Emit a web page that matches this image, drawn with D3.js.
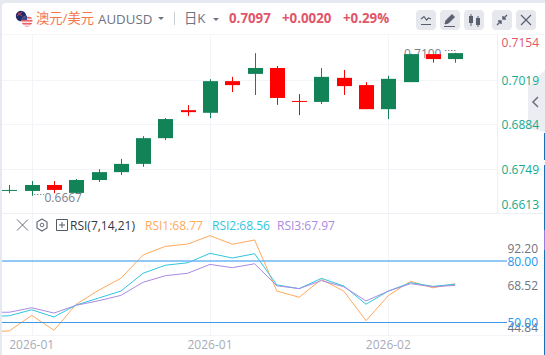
<!DOCTYPE html>
<html><head><meta charset="utf-8"><script src="https://cdn.jsdelivr.net/npm/d3@7"></script>
<style>html,body{margin:0;padding:0;background:#e6eaf0;overflow:hidden}svg{display:block}text{font-family:"Open Sans","Noto Sans CJK SC",sans-serif}</style></head>
<body><script>
const opens =[.6681,.6681,.6699,.6675,.6714,.6738,.6763,.6841,.6926,.6918,.7014,.7036,.7054,.6954,.6951,.7024,.7002,.6929,.7011,.7096,.7081];
const closes=[.6684,.6699,.6684,.6714,.6738,.6763,.6841,.6899,.6920,.7014,.7002,.7054,.6963,.6951,.7027,.6999,.6929,.7021,.7096,.7081,.7099];
const highs =[.6699,.6711,.6711,.6717,.6747,.6778,.6847,.6902,.6941,.7020,.7027,.7099,.7060,.6975,.7054,.7048,.7011,.7030,.7097,.7096,.7100];
const lows  =[.6674,.6666,.6674,.6675,.6708,.6729,.6754,.6835,.6908,.6902,.6981,.6972,.6942,.6911,.6945,.6972,.6929,.6899,.7011,.7070,.7070];
const rsi1=[45.4,45.8,53.4,46.1,58.8,65.6,71.4,82.8,87.0,88.1,92.2,88.0,90.1,65.2,62.2,70.9,65.2,50.8,63.0,70.0,66.8,68.77];
const rsi2=[52.8,53.2,56.1,52.6,58.4,61.8,65.2,73.9,77.8,79.0,83.6,81.3,83.4,68.2,66.4,71.4,67.7,58.8,65.2,69.3,67.5,68.56];
const rsi3=[54.9,54.9,57.1,54.5,58.3,60.5,63.1,69.5,72.7,73.9,78.2,76.6,78.5,67.8,66.4,70.3,67.3,60.4,65.2,68.8,67.3,67.97];
const priceTicks=[.7154,.7019,.6884,.6749,.6613];
const rsiRefs=[80,50];
const rsiTicks=[92.20,68.52,44.84];
const dateLabels=[{i:1,t:"2026-01"},{i:9,t:"2026-01"},{i:17,t:"2026-02"}];
const W=545,H=355;
const svg=d3.select("body").append("svg").attr("width",W).attr("height",H);
const x=d3.scaleLinear().domain([0,20]).range([9.4,455.2]);
const y=d3.scaleLinear().domain([.7019,.6884]).range([79.5,124]);
const r=d3.scaleLinear().domain([80,50]).range([260.7,322.3]);
const UP="#128257",DOWN="#ff0000",GRID="#f2f4f7";
svg.append("rect").attr("x",2).attr("y",3).attr("width",W).attr("height",H).attr("rx",4).attr("fill","#fff");
svg.append("clipPath").attr("id","plot").append("rect").attr("x",2).attr("y",35).attr("width",W).attr("height",178);
// grid
const g=svg.append("g");
g.selectAll(".h").data(priceTicks.slice(1,4)).join("line").attr("x1",2).attr("x2",497).attr("y1",d=>Math.round(y(d))+.5).attr("y2",d=>Math.round(y(d))+.5).attr("stroke",GRID);
g.selectAll(".v").data(dateLabels).join("line").attr("x1",d=>Math.round(x(d.i))+.5).attr("x2",d=>Math.round(x(d.i))+.5).attr("y1",35).attr("y2",335).attr("stroke",GRID);
g.append("line").attr("x1",2).attr("x2",W).attr("y1",34.5).attr("y2",34.5).attr("stroke","#f5f6f8");
g.append("line").attr("x1",2).attr("x2",W).attr("y1",213.5).attr("y2",213.5).attr("stroke","#eef0f3");
g.append("line").attr("x1",2).attr("x2",W).attr("y1",335.5).attr("y2",335.5).attr("stroke","#f2f4f7");
g.append("line").attr("x1",497.5).attr("x2",497.5).attr("y1",35).attr("y2",213).attr("stroke","#eef0f3");
// side tab
svg.append("path").attr("d","M545 70L528 86V128L545 132Z").attr("fill","#ecedf2");
svg.append("path").attr("d","M538 97L533 102L538 107").attr("fill","none").attr("stroke","#6f7480").attr("stroke-width",1.6);
svg.append("path").attr("d","M544.5 133V160M544.5 165V230M544.5 250V355").attr("stroke","#1a6fb8").attr("fill","none");
svg.append("path").attr("d","M544.5 230V250").attr("stroke","#9a7fd6").attr("fill","none");
// extrema labels (beneath the candles)
svg.append("text").attr("x",404).attr("y",58).attr("font-size",12).attr("fill","#7a7f8c").text("0.7100");
svg.append("line").attr("x1",445).attr("x2",456).attr("y1",50.5).attr("y2",50.5).attr("stroke","#8a8f9a").attr("stroke-dasharray","1.5 1.5");
svg.append("text").attr("x",44.5).attr("y",201.5).attr("font-size",12).attr("fill","#7a7f8c").text("0.6667");
svg.append("line").attr("x1",34).attr("x2",44).attr("y1",194.5).attr("y2",194.5).attr("stroke","#8a8f9a").attr("stroke-dasharray","1.5 1.5");
// candles
const idx=d3.range(opens.length);
const c=svg.append("g").attr("clip-path","url(#plot)");
const col=i=>closes[i]>=opens[i]?UP:DOWN;
c.selectAll(".w").data(idx).join("line").attr("x1",i=>Math.round(x(i))+.5).attr("x2",i=>Math.round(x(i))+.5).attr("y1",i=>y(highs[i])).attr("y2",i=>y(lows[i])).attr("stroke",col);
c.selectAll(".b").data(idx).join("rect").attr("x",i=>Math.round(x(i))-7).attr("width",15)
 .attr("y",i=>y(Math.max(opens[i],closes[i]))).attr("height",i=>Math.max(1,Math.abs(y(opens[i])-y(closes[i])))).attr("fill",col);
// price axis labels
svg.selectAll(".pl").data(priceTicks).join("text").attr("x",539).attr("text-anchor","end").attr("font-size",12)
 .attr("y",d=>Math.min(Math.max(y(d),42),203.5)+5).attr("fill",(d,i)=>i==0?"#e0566a":"#13ab8d").text(d=>d.toFixed(4));
// RSI lines
svg.append("clipPath").attr("id","rp").append("rect").attr("x",2).attr("y",214).attr("width",500).attr("height",121);
const rx=d3.scaleLinear().domain([1,21]).range([9.4,455.2]);
const line=d3.line().x((d,i)=>rx(i)).y(d=>r(d));
const rg=svg.append("g").attr("clip-path","url(#rp)");
[[rsi1,"#ffa95c"],[rsi2,"#2fc6df"],[rsi3,"#a98be2"]].forEach(([a,cl])=>rg.append("path").attr("d",line(a)).attr("fill","none").attr("stroke",cl).attr("stroke-width",1));
svg.selectAll(".ref").data(rsiRefs).join("line").attr("x1",2).attr("x2",507).attr("y1",d=>d==80?261:322.5).attr("y2",d=>d==80?261:322.5).attr("stroke",d=>d==80?"#6db6f2":"#3f9be8").attr("stroke-width",d=>d==80?1.6:1);
svg.selectAll(".rt").data(rsiTicks).join("text").attr("x",538).attr("text-anchor","end").attr("font-size",12).attr("fill","#6f7480")
 .attr("y",d=>Math.min(Math.max(r(d),248),327)+(d==68.52?6:5)).text(d=>d.toFixed(2));
svg.selectAll(".rr").data(rsiRefs).join("text").attr("x",538).attr("text-anchor","end").attr("font-size",12).attr("fill","#2196f3")
 .attr("y",d=>r(d)+5).text(d=>d.toFixed(2));
svg.selectAll(".dl").data(dateLabels).join("text").attr("x",d=>x(d.i)).attr("y",349).attr("text-anchor","middle").attr("font-size",12).attr("fill","#a8abb8").text(d=>d.t);
// legend
const leg=[["RSI(7,14,21)",70,"#33373f"],["RSI1:68.77",145,"#ffa95c"],["RSI2:68.56",212,"#2fc6df"],["RSI3:67.97",277,"#a98be2"]];
svg.selectAll(".lg").data(leg).join("text").attr("x",d=>d[1]).attr("y",229.5).attr("font-size",12).attr("fill",d=>d[2]).text(d=>d[0]);
svg.append("path").attr("d","M17 219.5L28 230.5M28 219.5L17 230.5").attr("stroke","#666c78").attr("fill","none");
svg.append("path").attr("d","M42 219l5 3v6l-5 3l-5-3v-6z").attr("stroke","#666c78").attr("fill","none").attr("stroke-width",1.2);
svg.append("circle").attr("cx",42).attr("cy",225).attr("r",1.8).attr("stroke","#666c78").attr("fill","none");
svg.append("path").attr("d","M56.5 219.5h11v11h-11zM62 222v6M59 225h6").attr("stroke","#555a65").attr("fill","none");
// header
svg.append("clipPath").attr("id","us").append("circle").attr("cx",27).attr("cy",21).attr("r",5.5);
svg.append("circle").attr("cx",21).attr("cy",16).attr("r",5.2).attr("fill","#1f2a66");
svg.append("path").attr("d","M17 12l5 4M22 12l-5 4").attr("stroke","#d9455a").attr("stroke-width",1);
svg.append("circle").attr("cx",27).attr("cy",21).attr("r",5.5).attr("fill","#fbe3e3");
const fl=svg.append("g").attr("clip-path","url(#us)");
fl.selectAll(".s").data([17,20,23,26]).join("rect").attr("x",21).attr("y",d=>d).attr("width",12).attr("height",1.5).attr("fill","#e8616b");
fl.append("rect").attr("x",21).attr("y",15).attr("width",6).attr("height",5).attr("fill","#3c4a8a");
svg.append("text").attr("x",36).attr("y",23).attr("font-size",13.3).attr("fill","#f5774f").text("澳元/美元");
svg.append("text").attr("x",98).attr("y",24).attr("font-size",13.3).attr("fill","#6f7480").text("AUDUSD");
svg.append("path").attr("d","M158 17h6l-3 3z").attr("fill","#6f7480");
svg.append("line").attr("x1",174.5).attr("x2",174.5).attr("y1",12).attr("y2",25).attr("stroke","#c9cdd4");
svg.append("text").attr("x",184).attr("y",23).attr("font-size",13.3).attr("fill","#6f7480").text("日K");
svg.append("path").attr("d","M213 18h6l-3 3z").attr("fill","#6f7480");
[["0.7097",229],["+0.0020",282],["+0.29%",343]].forEach(([t,xx])=>svg.append("text").attr("x",xx).attr("y",23).attr("font-size",13.3).attr("font-weight",700).attr("fill","#e0566a").text(t));
[416,440,464,492,516].forEach(xx=>svg.append("rect").attr("x",xx).attr("y",10).attr("width",20).attr("height",20).attr("rx",4).attr("fill","#e6e8ee"));
const IC="#5b6070";
svg.append("path").attr("d","M421 24.5h10M421 19l3-2.5l2.5 3.5l2-2l2.5 1").attr("fill","none").attr("stroke",IC).attr("stroke-width",1.2);
svg.append("path").attr("d","M445 24l1-3.5l6-6l2.5 2.5l-6 6zM444 26.5h11").attr("fill",IC).attr("stroke",IC);
svg.append("path").attr("d","M471 14v12M478 16v11").attr("stroke",IC);
svg.append("rect").attr("x",469).attr("y",16).attr("width",4).attr("height",7).attr("fill",IC);
svg.append("rect").attr("x",476).attr("y",18).attr("width",4).attr("height",7).attr("fill",IC);
svg.append("path").attr("d","M497 25l4-4M501 24v-3h-3M507 15l-4 4M503 16v3h3").attr("fill","none").attr("stroke",IC).attr("stroke-width",1.4);
svg.append("path").attr("d","M521 15l10 10M531 15l-10 10").attr("fill","none").attr("stroke",IC).attr("stroke-width",1.2);
</script></body></html>
